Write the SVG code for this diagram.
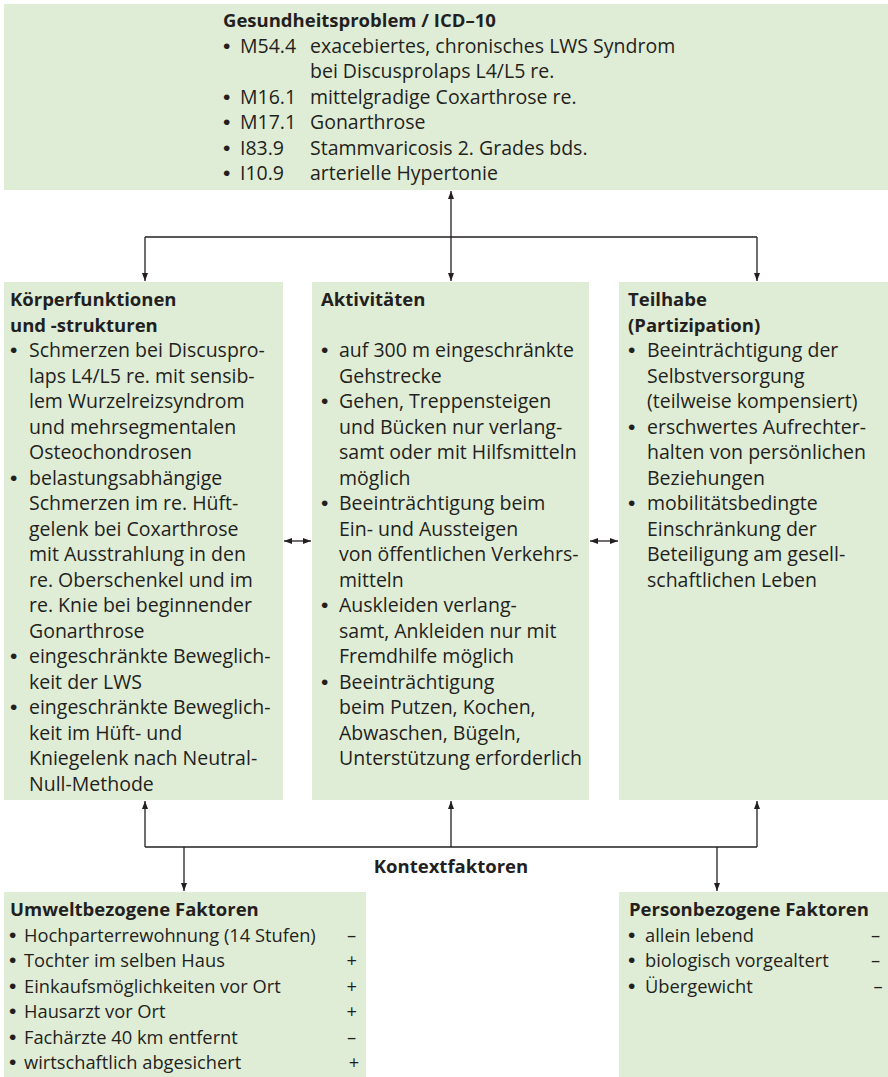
<svg xmlns="http://www.w3.org/2000/svg" width="888" height="1077" viewBox="0 0 888 1077">
<style>
.box{fill:#e0edd6;stroke:none}
text{font-family:"Open Sans","Noto Sans",sans-serif;fill:#231f20;font-size:19.5px}
.h{font-weight:bold;font-size:18.5px}
.s{font-size:18.3px}
.b{font-family:"Liberation Sans",Arial,sans-serif;font-size:21px}
.c{fill:none;stroke:#231f20;stroke-width:1.3}
</style>
<defs>
<marker id="ah" markerUnits="userSpaceOnUse" markerWidth="9" markerHeight="7" refX="8" refY="3" orient="auto-start-reverse">
<path d="M0,0 L8,3 L0,6 z" fill="#231f20"/>
</marker>
</defs>
<rect width="888" height="1077" fill="#fff"/>

<g id="gesundheitsproblem">
<rect class="box" x="4" y="4" width="884" height="186"/>
<text class="h" x="223" y="27">Gesundheitsproblem / ICD–10</text>
<text>
<tspan class="b" x="223" y="53">•</tspan><tspan x="240" y="53">M54.4</tspan><tspan x="310" y="53">exacebiertes, chronisches LWS Syndrom</tspan>
<tspan x="310" y="78.4">bei Discusprolaps L4/L5 re.</tspan>
<tspan class="b" x="223" y="103.8">•</tspan><tspan x="240" y="103.8">M16.1</tspan><tspan x="310" y="103.8">mittelgradige Coxarthrose re.</tspan>
<tspan class="b" x="223" y="129.2">•</tspan><tspan x="240" y="129.2">M17.1</tspan><tspan x="310" y="129.2">Gonarthrose</tspan>
<tspan class="b" x="223" y="154.6">•</tspan><tspan x="240" y="154.6">I83.9</tspan><tspan x="310" y="154.6">Stammvaricosis 2. Grades bds.</tspan>
<tspan class="b" x="223" y="180">•</tspan><tspan x="240" y="180">I10.9</tspan><tspan x="310" y="180">arterielle Hypertonie</tspan>
</text>
</g>

<g id="koerperfunktionen">
<rect class="box" x="4" y="282" width="279" height="518"/>
<text class="h"><tspan x="10" y="306">Körperfunktionen</tspan><tspan x="10" y="331.5">und -strukturen</tspan></text>
<text>
<tspan class="b" x="10" y="357">•</tspan><tspan x="29" y="357">Schmerzen bei Discuspro-</tspan>
<tspan x="29" y="382.5">laps L4/L5 re. mit sensib-</tspan>
<tspan x="29" y="408">lem Wurzelreizsyndrom</tspan>
<tspan x="29" y="433.5">und mehrsegmentalen</tspan>
<tspan x="29" y="459">Osteochondrosen</tspan>
<tspan class="b" x="10" y="484.5">•</tspan><tspan x="29" y="484.5">belastungsabhängige</tspan>
<tspan x="29" y="510">Schmerzen im re. Hüft-</tspan>
<tspan x="29" y="535.5">gelenk bei Coxarthrose</tspan>
<tspan x="29" y="561">mit Ausstrahlung in den</tspan>
<tspan x="29" y="586.5">re. Oberschenkel und im</tspan>
<tspan x="29" y="612">re. Knie bei beginnender</tspan>
<tspan x="29" y="637.5">Gonarthrose</tspan>
<tspan class="b" x="10" y="663">•</tspan><tspan x="29" y="663">eingeschränkte Beweglich-</tspan>
<tspan x="29" y="688.5">keit der LWS</tspan>
<tspan class="b" x="10" y="714">•</tspan><tspan x="29" y="714">eingeschränkte Beweglich-</tspan>
<tspan x="29" y="739.5">keit im Hüft- und</tspan>
<tspan x="29" y="765">Kniegelenk nach Neutral-</tspan>
<tspan x="29" y="790.5">Null-Methode</tspan>
</text>
</g>

<g id="aktivitaeten">
<rect class="box" x="312" y="282" width="277" height="518"/>
<text class="h" x="321" y="306">Aktivitäten</text>
<text>
<tspan class="b" x="321" y="357">•</tspan><tspan x="339" y="357">auf 300 m eingeschränkte</tspan>
<tspan x="339" y="382.5">Gehstrecke</tspan>
<tspan class="b" x="321" y="408">•</tspan><tspan x="339" y="408">Gehen, Treppensteigen</tspan>
<tspan x="339" y="433.5">und Bücken nur verlang-</tspan>
<tspan x="339" y="459">samt oder mit Hilfsmitteln</tspan>
<tspan x="339" y="484.5">möglich</tspan>
<tspan class="b" x="321" y="510">•</tspan><tspan x="339" y="510">Beeinträchtigung beim</tspan>
<tspan x="339" y="535.5">Ein- und Aussteigen</tspan>
<tspan x="339" y="561">von öffentlichen Verkehrs-</tspan>
<tspan x="339" y="586.5">mitteln</tspan>
<tspan class="b" x="321" y="612">•</tspan><tspan x="339" y="612">Auskleiden verlang-</tspan>
<tspan x="339" y="637.5">samt, Ankleiden nur mit</tspan>
<tspan x="339" y="663">Fremdhilfe möglich</tspan>
<tspan class="b" x="321" y="688.5">•</tspan><tspan x="339" y="688.5">Beeinträchtigung</tspan>
<tspan x="339" y="714">beim Putzen, Kochen,</tspan>
<tspan x="339" y="739.5">Abwaschen, Bügeln,</tspan>
<tspan x="339" y="765">Unterstützung erforderlich</tspan>
</text>
</g>

<g id="teilhabe">
<rect class="box" x="619" y="282" width="269" height="518"/>
<text class="h"><tspan x="628" y="306">Teilhabe</tspan><tspan x="628" y="331.5">(Partizipation)</tspan></text>
<text>
<tspan class="b" x="628" y="357">•</tspan><tspan x="647" y="357">Beeinträchtigung der</tspan>
<tspan x="647" y="382.5">Selbstversorgung</tspan>
<tspan x="647" y="408">(teilweise kompensiert)</tspan>
<tspan class="b" x="628" y="433.5">•</tspan><tspan x="647" y="433.5">erschwertes Aufrechter-</tspan>
<tspan x="647" y="459">halten von persönlichen</tspan>
<tspan x="647" y="484.5">Beziehungen</tspan>
<tspan class="b" x="628" y="510">•</tspan><tspan x="647" y="510">mobilitätsbedingte</tspan>
<tspan x="647" y="535.5">Einschränkung der</tspan>
<tspan x="647" y="561">Beteiligung am gesell-</tspan>
<tspan x="647" y="586.5">schaftlichen Leben</tspan>
</text>
</g>

<g id="kontextfaktoren">
<text class="h" x="451" y="873" text-anchor="middle">Kontextfaktoren</text>
</g>

<g id="umweltfaktoren">
<rect class="box" x="4" y="892" width="362" height="185"/>
<text class="h" x="10" y="916">Umweltbezogene Faktoren</text>
<text class="s">
<tspan class="b" x="9" y="941.5">•</tspan><tspan x="24" y="941.5">Hochparterrewohnung (14 Stufen)</tspan>
<tspan class="b" x="9" y="967">•</tspan><tspan x="24" y="967">Tochter im selben Haus</tspan>
<tspan class="b" x="9" y="992.5">•</tspan><tspan x="24" y="992.5">Einkaufsmöglichkeiten vor Ort</tspan>
<tspan class="b" x="9" y="1018">•</tspan><tspan x="24" y="1018">Hausarzt vor Ort</tspan>
<tspan class="b" x="9" y="1043.5">•</tspan><tspan x="24" y="1043.5">Fachärzte 40 km entfernt</tspan>
<tspan class="b" x="9" y="1069">•</tspan><tspan x="24" y="1069">wirtschaftlich abgesichert</tspan>
</text>
<text class="s" text-anchor="middle">
<tspan x="354" y="941.5">–</tspan>
<tspan x="354" y="967">+</tspan>
<tspan x="354" y="992.5">+</tspan>
<tspan x="354" y="1018">+</tspan>
<tspan x="354" y="1043.5">–</tspan>
<tspan x="354" y="1069">+</tspan>
</text>
</g>

<g id="personfaktoren">
<rect class="box" x="619" y="892" width="269" height="185"/>
<text class="h" x="629" y="916">Personbezogene Faktoren</text>
<text class="s">
<tspan class="b" x="628" y="941.5">•</tspan><tspan x="645" y="941.5">allein lebend</tspan>
<tspan class="b" x="628" y="967">•</tspan><tspan x="645" y="967">biologisch vorgealtert</tspan>
<tspan class="b" x="628" y="992.5">•</tspan><tspan x="645" y="992.5">Übergewicht</tspan>
</text>
<text class="s" text-anchor="middle">
<tspan x="878" y="941.5">–</tspan>
<tspan x="878" y="967">–</tspan>
<tspan x="878" y="992.5">–</tspan>
</text>
</g>

<g id="connectors" class="c">
<path d="M451,191 V281" marker-start="url(#ah)" marker-end="url(#ah)"/>
<path d="M145,237 H757"/>
<path d="M145,237 V281" marker-end="url(#ah)"/>
<path d="M757,237 V281" marker-end="url(#ah)"/>
<path d="M284,541 H311" marker-start="url(#ah)" marker-end="url(#ah)"/>
<path d="M590,541 H618" marker-start="url(#ah)" marker-end="url(#ah)"/>
<path d="M145,847 H757"/>
<path d="M145,847 V801" marker-end="url(#ah)"/>
<path d="M451,847 V801" marker-end="url(#ah)"/>
<path d="M757,847 V801" marker-end="url(#ah)"/>
<path d="M184,847 V891" marker-end="url(#ah)"/>
<path d="M717,847 V891" marker-end="url(#ah)"/>
</g>
</svg>
